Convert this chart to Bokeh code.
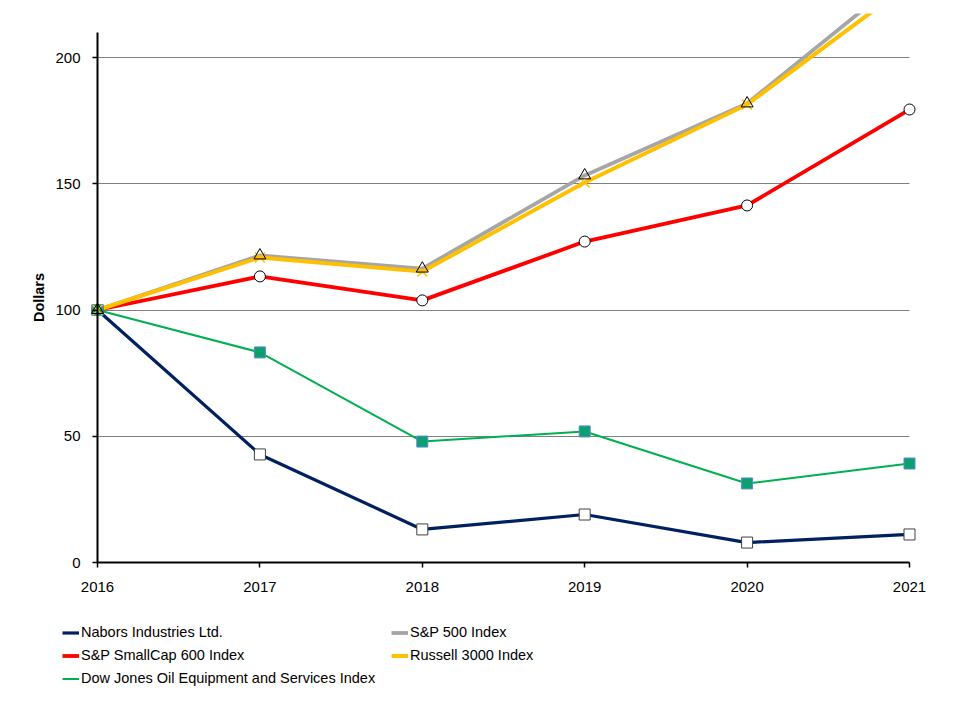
from bokeh.plotting import figure
from bokeh.models import Range1d, FixedTicker, Legend, LegendItem
from bokeh.embed import file_html
from bokeh.resources import INLINE

# ---- data ----
years = [2016, 2017, 2018, 2019, 2020, 2021]
nabors = [100, 42.8, 13.1, 19.0, 7.9, 11.1]
smallcap = [100, 113.3, 103.8, 127.1, 141.4, 179.4]
dowjones = [100, 83.2, 47.9, 51.9, 31.3, 39.2]
sp500 = [100, 121.6, 116.4, 153.3, 181.8, 233.8]
russell = [100, 120.8, 115.2, 150.5, 181.4, 229.2]
y_ticks = [0, 50, 100, 150, 200]
y_axis_max = 210
y_label = "Dollars"
names = ["Nabors Industries Ltd.", "S&P SmallCap 600 Index",
         "Dow Jones Oil Equipment and Services Index",
         "S&P 500 Index", "Russell 3000 Index"]

FONT = "Liberation Sans"

# frame spans the whole canvas below the top border so nothing is clipped
PX_X = 162.4   # px per year
PX_Y = 2.525   # px per dollar
W, H, TOP = 965, 700, 13
X0_PX, Y0_PX = 97, 562   # where (2016, 0) sits

p = figure(width=W, height=H,
           x_range=Range1d(years[0] - X0_PX / PX_X, years[0] + (W - X0_PX) / PX_X),
           y_range=Range1d(-(H - Y0_PX) / PX_Y, (Y0_PX - TOP) / PX_Y),
           min_border_left=0, min_border_right=0,
           min_border_top=TOP, min_border_bottom=0,
           output_backend="svg", toolbar_location=None)
p.outline_line_color = None
p.background_fill_color = "white"
p.border_fill_color = "white"

# axes
p.xaxis.fixed_location = 0
p.yaxis.fixed_location = years[0]
p.xaxis.bounds = (years[0], years[-1])
p.yaxis.bounds = (0, y_axis_max)
p.xaxis.ticker = FixedTicker(ticks=years)
p.yaxis.ticker = FixedTicker(ticks=y_ticks)
for ax in (p.xaxis, p.yaxis):
    ax.axis_line_color = "black"
    ax.axis_line_width = 2
    ax.major_tick_line_color = "black"
    ax.major_tick_line_width = 1.5
    ax.major_tick_in = 0
    ax.major_tick_out = 5
    ax.minor_tick_line_color = None
    ax.major_label_text_font = FONT
    ax.major_label_text_font_size = "15px"
    ax.major_label_text_font_style = "normal"
    ax.major_label_text_color = "black"
p.xaxis.major_label_standoff = 14
p.yaxis.major_label_standoff = 12
p.yaxis.axis_label = y_label
p.yaxis.axis_label_text_font = FONT
p.yaxis.axis_label_text_font_size = "14.5px"
p.yaxis.axis_label_text_font_style = "bold"
p.yaxis.axis_label_text_color = "black"
p.yaxis.axis_label_standoff = 5

p.xgrid.grid_line_color = None
p.ygrid.ticker = FixedTicker(ticks=y_ticks)
p.ygrid.bounds = (0, y_axis_max)
p.ygrid.cross_bounds = (years[0], years[-1])
p.ygrid.grid_line_color = "#808080"
p.ygrid.grid_line_width = 1

# lines
r_nab = p.line(years, nabors, line_color="#002060", line_width=3.2)
r_small = p.line(years, smallcap, line_color="#FF0000", line_width=3.8)
r_dow = p.line(years, dowjones, line_color="#00B050", line_width=2)
r_sp = p.line(years, sp500, line_color="#A6A6A6", line_width=3.8)
r_rus = p.line(years, russell, line_color="#FFC000", line_width=4)

# markers
p.scatter(years, nabors, marker="square", size=11, fill_color="white",
          line_color="#404040", line_width=1)
p.scatter(years, smallcap, marker="circle", size=11, fill_color="white",
          line_color="black", line_width=1)
p.scatter(years, dowjones, marker="square", size=11, fill_color="#0E9F6E",
          line_color="#5B8BD0", line_width=1)
p.scatter(years, russell, marker="x", size=14, line_color="#FFC000",
          line_width=1.5)
p.scatter(years, sp500, marker="triangle", size=12, fill_color=None,
          line_color="black", line_width=1)

def make_legend(items, loc):
    lg = Legend(items=items, location=loc)
    lg.margin = 0
    lg.padding = 0
    lg.spacing = 2
    lg.glyph_width = 17
    lg.glyph_height = 21
    lg.label_height = 21
    lg.label_standoff = 2
    lg.label_text_font = FONT
    lg.label_text_font_size = "14.5px"
    lg.label_text_color = "black"
    lg.border_line_color = None
    lg.background_fill_alpha = 0
    return lg

leg1 = make_legend([LegendItem(label=names[0], renderers=[r_nab]),
                    LegendItem(label=names[1], renderers=[r_small]),
                    LegendItem(label=names[2], renderers=[r_dow])],
                   (62, H - 688.5))
leg2 = make_legend([LegendItem(label=names[3], renderers=[r_sp]),
                    LegendItem(label=names[4], renderers=[r_rus])],
                   (391, H - 665.5))
p.add_layout(leg1)
p.add_layout(leg2)

open("out.html", "w").write(file_html(p, INLINE))
